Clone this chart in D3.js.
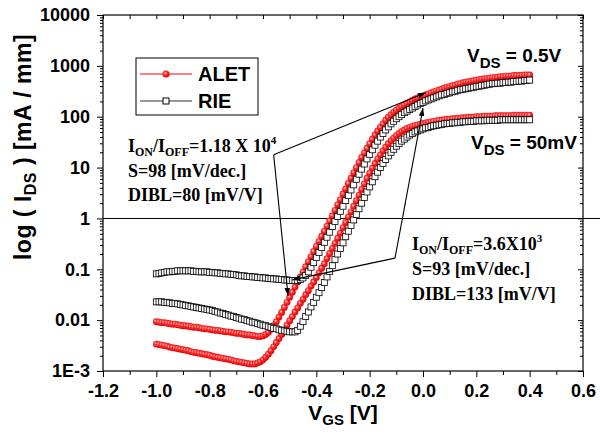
<!DOCTYPE html>
<html>
<head>
<meta charset="utf-8">
<script src="https://d3js.org/d3.v7.min.js"></script>
<style>
body { margin: 0; background: #fff; }
svg { display: block; }
text { font-family: 'Liberation Sans', Arial, sans-serif; font-weight: bold; fill: #000; }
text.serif { font-family: 'Liberation Serif', 'Times New Roman', serif; }
</style>
</head>
<body>
<svg></svg>
<script>

var width = 600;
var height = 438;

// gate voltage, one point every 10 mV
var vgs = [-1.00,-0.99,-0.98,-0.97,-0.96,-0.95,-0.94,-0.93,-0.92,-0.91,
           -0.90,-0.89,-0.88,-0.87,-0.86,-0.85,-0.84,-0.83,-0.82,-0.81,
           -0.80,-0.79,-0.78,-0.77,-0.76,-0.75,-0.74,-0.73,-0.72,-0.71,
           -0.70,-0.69,-0.68,-0.67,-0.66,-0.65,-0.64,-0.63,-0.62,-0.61,
           -0.60,-0.59,-0.58,-0.57,-0.56,-0.55,-0.54,-0.53,-0.52,-0.51,
           -0.50,-0.49,-0.48,-0.47,-0.46,-0.45,-0.44,-0.43,-0.42,-0.41,
           -0.40,-0.39,-0.38,-0.37,-0.36,-0.35,-0.34,-0.33,-0.32,-0.31,
           -0.30,-0.29,-0.28,-0.27,-0.26,-0.25,-0.24,-0.23,-0.22,-0.21,
           -0.20,-0.19,-0.18,-0.17,-0.16,-0.15,-0.14,-0.13,-0.12,-0.11,
           -0.10,-0.09,-0.08,-0.07,-0.06,-0.05,-0.04,-0.03,-0.02,-0.01,
            0.00, 0.01, 0.02, 0.03, 0.04, 0.05, 0.06, 0.07, 0.08, 0.09,
            0.10, 0.11, 0.12, 0.13, 0.14, 0.15, 0.16, 0.17, 0.18, 0.19,
            0.20, 0.21, 0.22, 0.23, 0.24, 0.25, 0.26, 0.27, 0.28, 0.29,
            0.30, 0.31, 0.32, 0.33, 0.34, 0.35, 0.36, 0.37, 0.38, 0.39,
            0.40];

// log10(IDS [mA/mm])
var logAlet05 = [-2.03,-2.04,-2.05,-2.05,-2.06,-2.07,-2.08,-2.08,-2.09,-2.10,
                 -2.11,-2.11,-2.12,-2.13,-2.14,-2.14,-2.15,-2.16,-2.17,-2.17,
                 -2.18,-2.19,-2.20,-2.20,-2.21,-2.22,-2.23,-2.23,-2.24,-2.25,
                 -2.26,-2.26,-2.27,-2.28,-2.29,-2.29,-2.30,-2.31,-2.32,-2.32,
                 -2.31,-2.28,-2.24,-2.18,-2.11,-2.03,-1.94,-1.85,-1.75,-1.65,
                 -1.55,-1.45,-1.35,-1.25,-1.15,-1.05,-0.95,-0.85,-0.75,-0.65,
                 -0.55,-0.45,-0.35,-0.25,-0.15,-0.05, 0.05, 0.16, 0.27, 0.37,
                  0.48, 0.58, 0.69, 0.79, 0.90, 1.00, 1.10, 1.20, 1.29, 1.38,
                  1.47, 1.56, 1.64, 1.72, 1.79, 1.86, 1.93, 1.99, 2.04, 2.09,
                  2.13, 2.17, 2.20, 2.23, 2.26, 2.29, 2.32, 2.35, 2.37, 2.39,
                  2.41, 2.43, 2.45, 2.47, 2.49, 2.51, 2.52, 2.54, 2.56, 2.58,
                  2.59, 2.61, 2.62, 2.64, 2.65, 2.67, 2.68, 2.69, 2.70, 2.71,
                  2.72, 2.73, 2.74, 2.75, 2.75, 2.76, 2.77, 2.77, 2.78, 2.79,
                  2.79, 2.80, 2.80, 2.80, 2.81, 2.81, 2.81, 2.81, 2.82, 2.82,
                  2.82];

var logRie05 = [-1.09,-1.08,-1.07,-1.06,-1.05,-1.05,-1.04,-1.04,-1.03,-1.03,
                -1.03,-1.03,-1.03,-1.03,-1.04,-1.04,-1.05,-1.05,-1.05,-1.05,
                -1.06,-1.06,-1.07,-1.07,-1.08,-1.08,-1.09,-1.09,-1.10,-1.10,
                -1.11,-1.12,-1.13,-1.13,-1.14,-1.14,-1.15,-1.15,-1.16,-1.16,
                -1.17,-1.17,-1.18,-1.18,-1.19,-1.19,-1.20,-1.20,-1.21,-1.21,
                -1.22,-1.22,-1.22,-1.22,-1.20,-1.17,-1.12,-1.05,-0.96,-0.87,
                -0.77,-0.67,-0.57,-0.47,-0.37,-0.27,-0.16,-0.06, 0.04, 0.14,
                 0.24, 0.35, 0.45, 0.56, 0.66, 0.77, 0.87, 0.97, 1.07, 1.17,
                 1.26, 1.35, 1.44, 1.52, 1.60, 1.67, 1.74, 1.80, 1.86, 1.91,
                 1.96, 2.00, 2.04, 2.08, 2.11, 2.14, 2.17, 2.20, 2.23, 2.26,
                 2.28, 2.31, 2.33, 2.35, 2.37, 2.39, 2.41, 2.43, 2.44, 2.46,
                 2.47, 2.49, 2.50, 2.52, 2.53, 2.54, 2.55, 2.56, 2.57, 2.58,
                 2.59, 2.60, 2.61, 2.62, 2.63, 2.64, 2.65, 2.65, 2.66, 2.66,
                 2.67, 2.67, 2.68, 2.68, 2.69, 2.69, 2.70, 2.70, 2.71, 2.71,
                 2.72];

var logAlet50 = [-2.47,-2.48,-2.49,-2.50,-2.51,-2.53,-2.54,-2.55,-2.56,-2.57,
                 -2.58,-2.59,-2.60,-2.62,-2.63,-2.64,-2.65,-2.66,-2.67,-2.68,
                 -2.69,-2.71,-2.72,-2.73,-2.74,-2.75,-2.76,-2.77,-2.78,-2.80,
                 -2.81,-2.82,-2.83,-2.84,-2.85,-2.86,-2.86,-2.86,-2.84,-2.82,
                 -2.78,-2.73,-2.67,-2.60,-2.52,-2.44,-2.36,-2.28,-2.19,-2.10,
                 -2.01,-1.93,-1.84,-1.76,-1.67,-1.59,-1.50,-1.42,-1.33,-1.25,
                 -1.16,-1.07,-0.98,-0.89,-0.79,-0.69,-0.59,-0.49,-0.39,-0.29,
                 -0.18,-0.08, 0.03, 0.13, 0.24, 0.35, 0.46, 0.57, 0.68, 0.79,
                  0.89, 0.99, 1.08, 1.17, 1.25, 1.33, 1.40, 1.47, 1.53, 1.58,
                  1.63, 1.67, 1.71, 1.74, 1.77, 1.79, 1.81, 1.83, 1.84, 1.85,
                  1.87, 1.88, 1.89, 1.90, 1.91, 1.92, 1.93, 1.93, 1.94, 1.95,
                  1.95, 1.96, 1.96, 1.97, 1.97, 1.98, 1.98, 1.99, 1.99, 1.99,
                  2.00, 2.00, 2.00, 2.01, 2.01, 2.01, 2.01, 2.02, 2.02, 2.02,
                  2.02, 2.02, 2.02, 2.02, 2.03, 2.03, 2.03, 2.03, 2.03, 2.03,
                  2.03];

var logRie50 = [-1.64,-1.64,-1.64,-1.65,-1.65,-1.66,-1.67,-1.67,-1.68,-1.69,
                -1.70,-1.71,-1.72,-1.73,-1.74,-1.75,-1.76,-1.77,-1.78,-1.79,
                -1.80,-1.81,-1.83,-1.84,-1.86,-1.87,-1.89,-1.90,-1.92,-1.93,
                -1.95,-1.96,-1.98,-1.99,-2.01,-2.02,-2.04,-2.05,-2.07,-2.08,
                -2.10,-2.11,-2.13,-2.14,-2.16,-2.17,-2.19,-2.20,-2.21,-2.22,
                -2.23,-2.23,-2.23,-2.20,-2.12,-2.03,-1.93,-1.84,-1.74,-1.65,
                -1.55,-1.46,-1.36,-1.26,-1.15,-1.04,-0.93,-0.81,-0.70,-0.59,
                -0.48,-0.36,-0.25,-0.14,-0.03, 0.08, 0.19, 0.30, 0.41, 0.52,
                 0.62, 0.72, 0.82, 0.91, 1.00, 1.08, 1.16, 1.23, 1.30, 1.36,
                 1.42, 1.47, 1.52, 1.56, 1.60, 1.64, 1.67, 1.70, 1.72, 1.74,
                 1.76, 1.78, 1.79, 1.81, 1.82, 1.83, 1.84, 1.85, 1.86, 1.87,
                 1.87, 1.88, 1.88, 1.89, 1.89, 1.90, 1.90, 1.91, 1.91, 1.91,
                 1.92, 1.92, 1.92, 1.92, 1.93, 1.93, 1.93, 1.93, 1.93, 1.94,
                 1.94, 1.94, 1.94, 1.94, 1.94, 1.94, 1.94, 1.94, 1.94, 1.94,
                 1.94];

var xTicks = [-1.2, -1.0, -0.8, -0.6, -0.4, -0.2, 0.0, 0.2, 0.4, 0.6];
var xTickLabels = ["-1.2", "-1.0", "-0.8", "-0.6", "-0.4", "-0.2", "0.0", "0.2", "0.4", "0.6"];
var xMinor = [-1.1, -0.9, -0.7, -0.5, -0.3, -0.1, 0.1, 0.3, 0.5];
var yTicks = [1e-3, 1e-2, 1e-1, 1, 10, 100, 1000, 10000];
var yTickLabels = ["1E-3", "0.01", "0.1", "1", "10", "100", "1000", "10000"];

// annotation pointers: corner point and the two arrow tips [VGS, IDS]
var ann1Corner = [-0.56, 17.8];
var ann1Tips = [[0.01, 295], [-0.506, 0.030]];
var ann2Corner = [-0.105, 0.166];
var ann2Tips = [[0.0, 148], [-0.49, 0.062]];

var svg = d3.select("svg").attr("width", width).attr("height", height);

var x = d3.scaleLinear().domain([-1.2, 0.6]).range([103, 583]);
var y = d3.scaleLog().domain([1e-3, 1e4]).range([371, 15]);

var defs = svg.append("defs");
var grad = defs.append("radialGradient").attr("id", "ball")
  .attr("cx", "40%").attr("cy", "38%").attr("r", "62%");
grad.append("stop").attr("offset", "0%").attr("stop-color", "#ffdede");
grad.append("stop").attr("offset", "40%").attr("stop-color", "#ff3030");
grad.append("stop").attr("offset", "100%").attr("stop-color", "#e00000");

defs.append("marker").attr("id", "arrow")
  .attr("viewBox", "0 0 10 10").attr("refX", 10).attr("refY", 5)
  .attr("markerWidth", 8).attr("markerHeight", 8)
  .attr("markerUnits", "userSpaceOnUse").attr("orient", "auto")
  .append("path").attr("d", "M0,1.5L10,5L0,8.5Z").attr("fill", "#000");

// ---- axes ----
function fixAxis(g, size) {
  g.select(".domain").remove();
  g.attr("font-family", "'Liberation Sans', Arial, sans-serif").attr("font-size", size);
  g.selectAll("line").attr("stroke", "#000");
}

svg.append("g").attr("transform", "translate(0,371)")
  .call(d3.axisBottom(x).tickValues(xTicks).tickSize(6).tickPadding(7)
    .tickFormat(function (d, i) { return xTickLabels[i]; }))
  .call(fixAxis, 18);
svg.append("g").attr("transform", "translate(0,371)")
  .call(d3.axisBottom(x).tickValues(xMinor).tickSize(4).tickFormat(""))
  .call(fixAxis, 18);
svg.append("g").attr("transform", "translate(0,15)")
  .call(d3.axisTop(x).tickValues(xTicks.concat(xMinor)).tickSize(-4).tickFormat(""))
  .call(fixAxis, 18);

var yMinor = y.ticks().filter(function (d) { return yTicks.indexOf(d) < 0; });

svg.append("g").attr("transform", "translate(103,0)")
  .call(d3.axisLeft(y).tickValues(yTicks).tickSize(6).tickPadding(7)
    .tickFormat(function (d, i) { return yTickLabels[i]; }))
  .call(fixAxis, 18);
svg.append("g").attr("transform", "translate(103,0)")
  .call(d3.axisLeft(y).tickValues(yMinor).tickSize(3).tickFormat(""))
  .call(fixAxis, 18);
svg.append("g").attr("transform", "translate(583,0)")
  .call(d3.axisRight(y).tickValues(yTicks).tickSize(-5).tickFormat(""))
  .call(fixAxis, 18);
svg.append("g").attr("transform", "translate(583,0)")
  .call(d3.axisRight(y).tickValues(yMinor).tickSize(-3).tickFormat(""))
  .call(fixAxis, 18);

svg.append("rect").attr("x", 103).attr("y", 15).attr("width", 480).attr("height", 356)
  .attr("fill", "none").attr("stroke", "#000").attr("stroke-width", 1.2);

// reference line at 1 mA/mm, runs past the right frame
svg.append("line").attr("x1", x(-1.2)).attr("x2", width)
  .attr("y1", y(1)).attr("y2", y(1)).attr("stroke", "#000").attr("stroke-width", 1.1);

// ---- data ----
function rows(logs) {
  return vgs.map(function (v, i) { return { v: v, i: Math.pow(10, logs[i]) }; });
}
var line = d3.line().x(function (d) { return x(d.v); }).y(function (d) { return y(d.i); });

var aletSeries = [rows(logAlet50), rows(logAlet05)];
var rieSeries = [rows(logRie50), rows(logRie05)];

aletSeries.forEach(function (s) {
  svg.append("path").datum(s).attr("d", line)
    .attr("fill", "none").attr("stroke", "#ff0000").attr("stroke-width", 1);
  svg.append("g").selectAll("circle").data(s).enter().append("circle")
    .attr("cx", function (d) { return x(d.v); })
    .attr("cy", function (d) { return y(d.i); })
    .attr("r", 3.4)
    .attr("fill", "url(#ball)");
});

rieSeries.forEach(function (s) {
  svg.append("path").datum(s).attr("d", line)
    .attr("fill", "none").attr("stroke", "#000").attr("stroke-width", 1);
  svg.append("g").selectAll("rect").data(s).enter().append("rect")
    .attr("x", function (d) { return x(d.v) - 3; })
    .attr("y", function (d) { return y(d.i) - 3; })
    .attr("width", 6).attr("height", 6)
    .attr("fill", "#fff").attr("stroke", "#000").attr("stroke-width", 0.8);
});

// ---- annotation pointers ----
[[ann1Corner, ann1Tips], [ann2Corner, ann2Tips]].forEach(function (a) {
  a[1].forEach(function (t) {
    svg.append("line")
      .attr("x1", x(a[0][0])).attr("y1", y(a[0][1]))
      .attr("x2", x(t[0])).attr("y2", y(t[1]))
      .attr("stroke", "#000").attr("stroke-width", 1.1)
      .attr("marker-end", "url(#arrow)");
  });
});

// ---- text helpers ----
function rich(parts, px, py, size, cls) {
  var t = svg.append("text").attr("x", px).attr("y", py).attr("font-size", size);
  if (cls) t.attr("class", cls);
  var shift = 0;
  parts.forEach(function (p) {
    var target = p.sub ? p.sub : 0;
    t.append("tspan").attr("dy", target - shift)
      .attr("font-size", p.size || size).text(p.t);
    shift = target;
  });
  return t;
}

// annotation 1
rich([{t: "I"}, {t: "ON", sub: 4, size: 12}, {t: "/I"}, {t: "OFF", sub: 4, size: 12},
      {t: "=1.18 X 10"}, {t: "4", sub: -8, size: 11}], 128, 152, 18, "serif");
rich([{t: "S=98 [mV/dec.]"}], 128, 177, 18, "serif");
rich([{t: "DIBL=80 [mV/V]"}], 128, 201, 18, "serif");

// annotation 2
rich([{t: "I"}, {t: "ON", sub: 4, size: 12}, {t: "/I"}, {t: "OFF", sub: 4, size: 12},
      {t: "=3.6X10"}, {t: "3", sub: -8, size: 11}], 412, 250, 18, "serif");
rich([{t: "S=93 [mV/dec.]"}], 412, 275, 18, "serif");
rich([{t: "DIBL=133 [mV/V]"}], 412, 300, 18, "serif");

// drain bias labels
rich([{t: "V"}, {t: "DS", sub: 6, size: 15}, {t: " = 0.5V"}], 467, 62, 19);
rich([{t: "V"}, {t: "DS", sub: 6, size: 15}, {t: " = 50mV"}], 471, 149, 19);

// axis titles
rich([{t: "V"}, {t: "GS", sub: 5, size: 15}, {t: " [V]"}], 343, 420, 21)
  .attr("text-anchor", "middle");
rich([{t: "log ( I"}, {t: "DS", sub: 5, size: 16}, {t: " ) [mA / mm]"}], 0, 0, 23)
  .attr("text-anchor", "middle").attr("letter-spacing", 0.5)
  .attr("transform", "translate(31,147) rotate(-90)");

// ---- legend ----
var legend = svg.append("g");
legend.append("rect").attr("x", 136).attr("y", 58).attr("width", 122).attr("height", 57)
  .attr("fill", "#fff").attr("stroke", "#000").attr("stroke-width", 1);
legend.append("line").attr("x1", 140).attr("x2", 192).attr("y1", 74).attr("y2", 74)
  .attr("stroke", "#ff0000");
legend.append("circle").attr("cx", 166).attr("cy", 74).attr("r", 3.6).attr("fill", "url(#ball)");
legend.append("text").attr("x", 198).attr("y", 81).attr("font-size", 20).text("ALET");
legend.append("line").attr("x1", 140).attr("x2", 192).attr("y1", 101).attr("y2", 101)
  .attr("stroke", "#333");
legend.append("rect").attr("x", 163).attr("y", 98).attr("width", 6).attr("height", 6)
  .attr("fill", "#fff").attr("stroke", "#000");
legend.append("text").attr("x", 198).attr("y", 108).attr("font-size", 20).text("RIE");

</script>
</body>
</html>
